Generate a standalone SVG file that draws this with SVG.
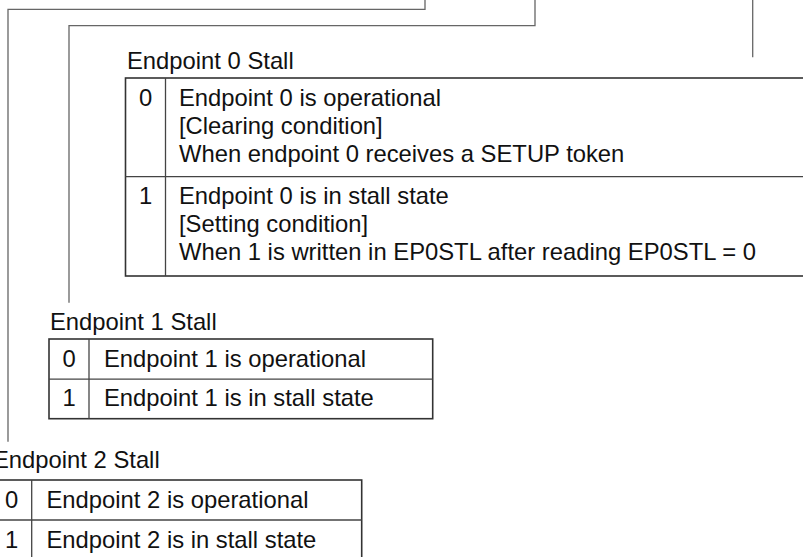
<svg xmlns="http://www.w3.org/2000/svg" width="803" height="557" viewBox="0 0 803 557">
<style>
text{font-family:"Liberation Sans",Arial,sans-serif;font-size:23.8px;fill:#111}
.c{text-anchor:middle}
.tb{fill:none;stroke:#333;stroke-width:1.6}
.rl{stroke:#444;stroke-width:1.3}
.cn{fill:none;stroke:#666;stroke-width:1.3}
</style>
<rect width="803" height="557" fill="#fff"/>
<g id="connectors">
<path class="cn" d="M425,0 V9.3 H8 V441.7"/>
<path class="cn" d="M535,0 V25.7 H69 V302.7"/>
<path class="cn" d="M752.7,0 V57.3"/>
</g>
<g id="ep0">
<text x="127" y="69">Endpoint 0 Stall</text>
<rect class="tb" x="125.5" y="78" width="700" height="198"/>
<line class="rl" x1="125.5" y1="176.7" x2="810" y2="176.7"/>
<line class="rl" x1="165.5" y1="78" x2="165.5" y2="276"/>
<text class="c" x="145.5" y="106">0</text>
<text x="179" y="106">Endpoint 0 is operational</text>
<text x="179" y="134">[Clearing condition]</text>
<text x="179" y="162">When endpoint 0 receives a SETUP token</text>
<text class="c" x="145.5" y="204">1</text>
<text x="179" y="204">Endpoint 0 is in stall state</text>
<text x="179" y="232">[Setting condition]</text>
<text x="179" y="260">When 1 is written in EP0STL after reading EP0STL = 0</text>
</g>
<g id="ep1">
<text x="50" y="329.5">Endpoint 1 Stall</text>
<rect class="tb" x="49" y="339" width="383.7" height="79.7"/>
<line class="rl" x1="49" y1="379.2" x2="432.7" y2="379.2"/>
<line class="rl" x1="89" y1="339" x2="89" y2="418.7"/>
<text class="c" x="69" y="366.7">0</text>
<text x="104" y="366.7">Endpoint 1 is operational</text>
<text class="c" x="69" y="406.3">1</text>
<text x="104" y="406.3">Endpoint 1 is in stall state</text>
</g>
<g id="ep2">
<text x="-7" y="468">Endpoint 2 Stall</text>
<rect class="tb" x="-8.3" y="480" width="370" height="80"/>
<line class="rl" x1="-8.3" y1="520" x2="361.7" y2="520"/>
<line class="rl" x1="31.7" y1="480" x2="31.7" y2="560"/>
<text class="c" x="11.7" y="507.7">0</text>
<text x="46.5" y="507.7">Endpoint 2 is operational</text>
<text class="c" x="11.7" y="547.7">1</text>
<text x="46.5" y="547.7">Endpoint 2 is in stall state</text>
</g>
</svg>
